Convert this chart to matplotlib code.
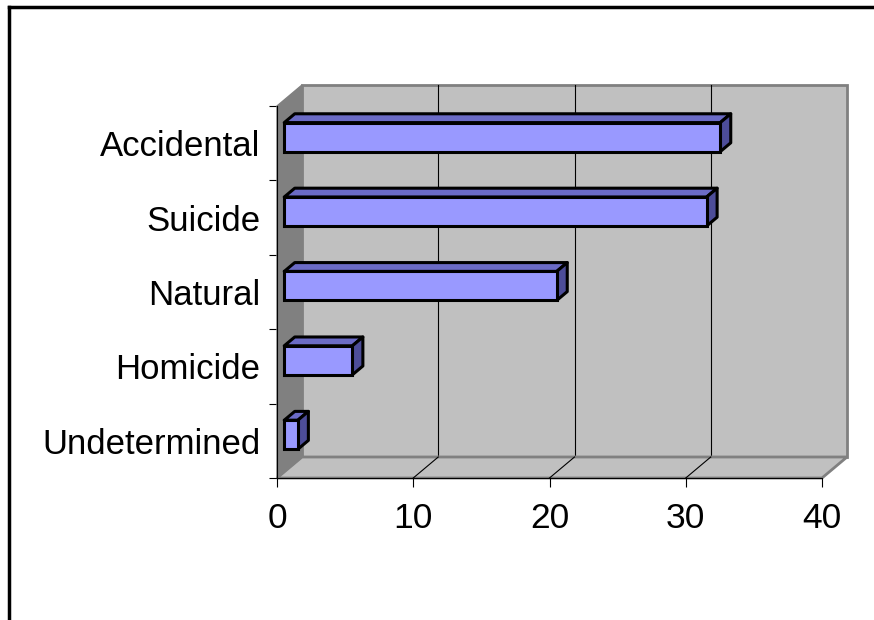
import numpy as np
import matplotlib.pyplot as plt
from matplotlib.patches import Polygon
from matplotlib.lines import Line2D

plt.rcParams['font.family'] = ['Liberation Sans', 'DejaVu Sans']

categories = ['Undetermined', 'Homicide', 'Natural', 'Suicide', 'Accidental']
values = [1, 5, 20, 31, 32]
xticks = [0, 10, 20, 30, 40]

W, H = 874, 620
fig = plt.figure(figsize=(W / 100, H / 100), dpi=100)
# front plane of the 3d box
ax = fig.add_axes([277 / W, (H - 478) / H, 545 / W, 372 / H])
xmax = xticks[-1]
ncat = len(categories)
ax.set_xlim(0, xmax)
ax.set_ylim(0, ncat)
ax.set_facecolor('none')

# full depth offset in data units
DX = 25 / 545 * xmax
DY = 21 / 372 * ncat

def P(x, y, d):
    return (x + d * DX, y + d * DY)

wall_c = '#c0c0c0'
side_c = '#808080'
edge_c = '#808080'

# back wall
ax.add_patch(Polygon([P(0, 0, 1), P(xmax, 0, 1), P(xmax, ncat, 1), P(0, ncat, 1)],
                     closed=True, facecolor=wall_c, edgecolor=edge_c, lw=2, zorder=1, clip_on=False))
# floor
ax.add_patch(Polygon([P(0, 0, 0), P(xmax, 0, 0), P(xmax, 0, 1), P(0, 0, 1)],
                     closed=True, facecolor=wall_c, edgecolor=edge_c, lw=2, zorder=1.5, clip_on=False))
# left wall
ax.add_patch(Polygon([P(0, 0, 0), P(0, ncat, 0), P(0, ncat, 1), P(0, 0, 1)],
                     closed=True, facecolor=side_c, edgecolor=edge_c, lw=1, zorder=2, clip_on=False))

# gridlines on back wall + floor
for t in xticks[1:-1]:
    xs, ys = zip(P(t, 0, 1), P(t, ncat, 1))
    ax.plot(xs, ys, color='black', lw=0.8, zorder=1.2, clip_on=False)
    xs, ys = zip(P(t, 0, 0), P(t, 0, 1))
    ax.plot(xs, ys, color='black', lw=0.8, zorder=1.6, clip_on=False)

# bars
d0, d1 = 0.29, 0.71
bh = 0.39
front_c = '#9999ff'
top_c = '#6b6bc6'
end_c = '#4d4d99'
for i, v in enumerate(values):
    yc = i + 0.5
    y0, y1 = yc - bh / 2, yc + bh / 2
    top = [P(0, y1, d0), P(v, y1, d0), P(v, y1, d1), P(0, y1, d1)]
    end = [P(v, y0, d0), P(v, y1, d0), P(v, y1, d1), P(v, y0, d1)]
    ax.add_patch(Polygon(top, closed=True, facecolor=top_c, edgecolor='black',
                         lw=2.2, joinstyle='round', zorder=3, clip_on=False))
    ax.add_patch(Polygon(end, closed=True, facecolor=end_c, edgecolor='black',
                         lw=2.2, joinstyle='round', zorder=3, clip_on=False))
    fx, fy = P(0, y0, d0)
    ax.barh(fy + bh / 2, v, height=bh, left=fx, color=front_c, edgecolor='black',
            linewidth=2.2, zorder=4, clip_on=False)

# axes lines / ticks
for s in ['top', 'right']:
    ax.spines[s].set_visible(False)
for s in ['left', 'bottom']:
    ax.spines[s].set_color('black')
    ax.spines[s].set_linewidth(0.8)
    ax.spines[s].set_zorder(2.5)
ax.set_xticks(xticks)
ax.set_xticklabels([str(t) for t in xticks])
ax.set_yticks(np.arange(ncat + 1))
ax.set_yticklabels([])
ax.set_yticks(np.arange(ncat) + 0.5, minor=True)
ax.set_yticklabels(categories, minor=True)
ax.tick_params(axis='y', which='major', length=6, width=0.8, color='black')
ax.tick_params(axis='y', which='minor', length=0, pad=12, labelsize=25)
ax.tick_params(axis='x', length=6.5, width=0.8, color='black', pad=10.5, labelsize=25.5)

# chart area border (cut off at right/bottom)
fig.add_artist(Line2D([9 / W, 9 / W], [0, 1 - 7 / H], color='black', lw=2.5))
fig.add_artist(Line2D([9 / W, 1], [1 - 7 / H, 1 - 7 / H], color='black', lw=2.5))

fig.savefig('out.png', dpi=100)
